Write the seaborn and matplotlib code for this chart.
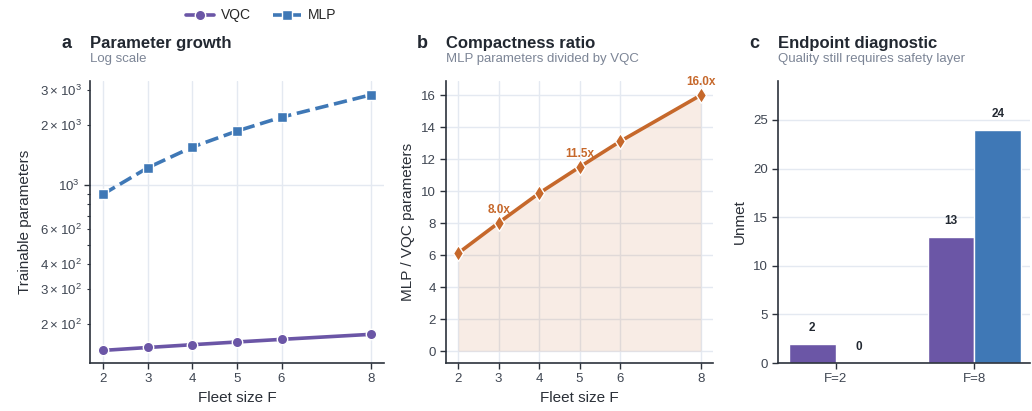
import numpy as np
import pandas as pd
import matplotlib
matplotlib.use("Agg")
import matplotlib.pyplot as plt
import seaborn as sns
from matplotlib.ticker import LogFormatterSciNotation

# ---- data ----
fleet = [2, 3, 4, 5, 6, 8]
vqc_params = [147, 152, 157, 162, 167, 177]
mlp_params = [900, 1220, 1550, 1865, 2190, 2835]
ratio_labeled_fleet = [3, 5, 8]
endpoints = ["F=2", "F=8"]
vqc_unmet = [2, 13]
mlp_unmet = [0, 24]

VQC_C = "#6b56a6"
MLP_C = "#3f78b6"
RAT_C = "#c6682b"
TXT = "#222831"
SUB = "#7c8596"
TICK = "#3f4652"
SPINE = "#2c323c"
GRID = "#e4e9f1"

sns.set_theme(style="ticks")
plt.rcParams["font.family"] = ["Liberation Sans", "DejaVu Sans"]
plt.rcParams.update({
    "axes.edgecolor": SPINE,
    "axes.linewidth": 1.2,
    "xtick.color": SPINE,
    "ytick.color": SPINE,
    "xtick.labelcolor": TICK,
    "ytick.labelcolor": TICK,
    "xtick.labelsize": 9.5,
    "ytick.labelsize": 9.5,
    "axes.labelsize": 11,
    "axes.labelcolor": "#2a2f37",
})

fig = plt.figure(figsize=(10.32, 4.11), dpi=100)
W, H = 1032, 411
def add_ax(l, r, t=81, b=363):
    return fig.add_axes([l / W, (H - b) / H, (r - l) / W, (b - t) / H])

ax1 = add_ax(90, 384)
ax2 = add_ax(446, 713)
ax3 = add_ax(778, 1030)

def header(ax, letter, title, sub):
    ax.annotate(letter, xy=(0, 1), xycoords="axes fraction", xytext=(-29, 33),
                textcoords="offset pixels", ha="left", va="baseline",
                fontsize=13, fontweight="bold", color=TXT)
    ax.annotate(title, xy=(0, 1), xycoords="axes fraction", xytext=(0, 33),
                textcoords="offset pixels", ha="left", va="baseline",
                fontsize=12, fontweight="bold", color=TXT)
    ax.annotate(sub, xy=(0, 1), xycoords="axes fraction", xytext=(0, 19),
                textcoords="offset pixels", ha="left", va="baseline",
                fontsize=9.5, color=SUB)

def style_ax(ax):
    sns.despine(ax=ax)
    ax.tick_params(length=4, width=1)

# ---- panel a ----
dfa = pd.DataFrame({
    "F": fleet * 2,
    "params": vqc_params + mlp_params,
    "Model": ["VQC"] * len(fleet) + ["MLP"] * len(fleet),
})
sns.lineplot(data=dfa, x="F", y="params", hue="Model", style="Model",
             palette={"VQC": VQC_C, "MLP": MLP_C},
             markers={"VQC": "o", "MLP": "s"},
             dashes={"VQC": "", "MLP": (3.7, 1.6)},
             linewidth=2.6, markersize=7.5, markeredgecolor="white",
             markeredgewidth=1.0, ax=ax1)
ax1.set_yscale("log")
ax1.set_ylim(127, 3330)
ax1.set_xlim(1.7, 8.3)
ax1.set_xticks(fleet)
ax1.yaxis.set_minor_formatter(LogFormatterSciNotation(labelOnlyBase=False, minor_thresholds=(2, 0.4)))
ax1.grid(True, which="major", color=GRID, linewidth=1)
ax1.set_axisbelow(True)
ax1.set_xlabel("Fleet size F")
ax1.set_ylabel("Trainable parameters", labelpad=6)
style_ax(ax1)
ax1.tick_params(which="minor", length=2.5, width=0.8, labelsize=9.5)
header(ax1, "a", "Parameter growth", "Log scale")
handles, labels = ax1.get_legend_handles_labels()
ax1.get_legend().remove()
fig.legend(handles, labels, loc="upper center", bbox_to_anchor=(0.2534, 1.01),
           ncol=2, frameon=False, fontsize=10, columnspacing=1.6,
           handlelength=2.0, handletextpad=0.5)

# ---- panel b ----
ratio = [m / v for m, v in zip(mlp_params, vqc_params)]
dfb = pd.DataFrame({"F": fleet, "ratio": ratio})
ax2.fill_between(dfb["F"], 0, dfb["ratio"], color=RAT_C, alpha=0.12, linewidth=0, zorder=1)
sns.lineplot(data=dfb, x="F", y="ratio", color=RAT_C, marker="d", linewidth=2.6,
             markersize=8, markeredgecolor="white", markeredgewidth=1.0, ax=ax2, zorder=4)
for f, r in zip(fleet, ratio):
    if f in ratio_labeled_fleet:
        ax2.annotate(f"{r:.1f}x", xy=(f, r), xytext=(0, 5), textcoords="offset points",
                     ha="center", va="bottom", fontsize=8.5, fontweight="bold",
                     color=RAT_C, zorder=2)
ax2.set_xlim(1.7, 8.3)
ax2.set_ylim(-0.75, 16.9)
ax2.set_xticks(fleet)
ax2.set_yticks(range(0, 17, 2))
ax2.grid(True, color=GRID, linewidth=1)
ax2.set_axisbelow(True)
ax2.set_xlabel("Fleet size F")
ax2.set_ylabel("MLP / VQC parameters")
style_ax(ax2)
header(ax2, "b", "Compactness ratio", "MLP parameters divided by VQC")

# ---- panel c ----
dfc = pd.DataFrame({
    "Endpoint": endpoints * 2,
    "Unmet": vqc_unmet + mlp_unmet,
    "Model": ["VQC"] * len(endpoints) + ["MLP"] * len(endpoints),
})
sns.barplot(data=dfc, x="Endpoint", y="Unmet", hue="Model",
            palette={"VQC": VQC_C, "MLP": MLP_C}, width=0.67, saturation=1,
            edgecolor="white", linewidth=1, ax=ax3, legend=False)
for cont in ax3.containers:
    ax3.bar_label(cont, fmt="%d", padding=7, fontsize=8.5, fontweight="bold", color=TXT)
ax3.set_ylim(0, 29)
ax3.set_xlim(-0.415, 1.4)
ax3.set_yticks([0, 5, 10, 15, 20, 25])
ax3.yaxis.grid(True, color=GRID, linewidth=1)
ax3.xaxis.grid(False)
ax3.set_axisbelow(True)
ax3.set_xlabel("")
ax3.set_ylabel("Unmet")
style_ax(ax3)
header(ax3, "c", "Endpoint diagnostic", "Quality still requires safety layer")

fig.savefig("out.png", dpi=100)
